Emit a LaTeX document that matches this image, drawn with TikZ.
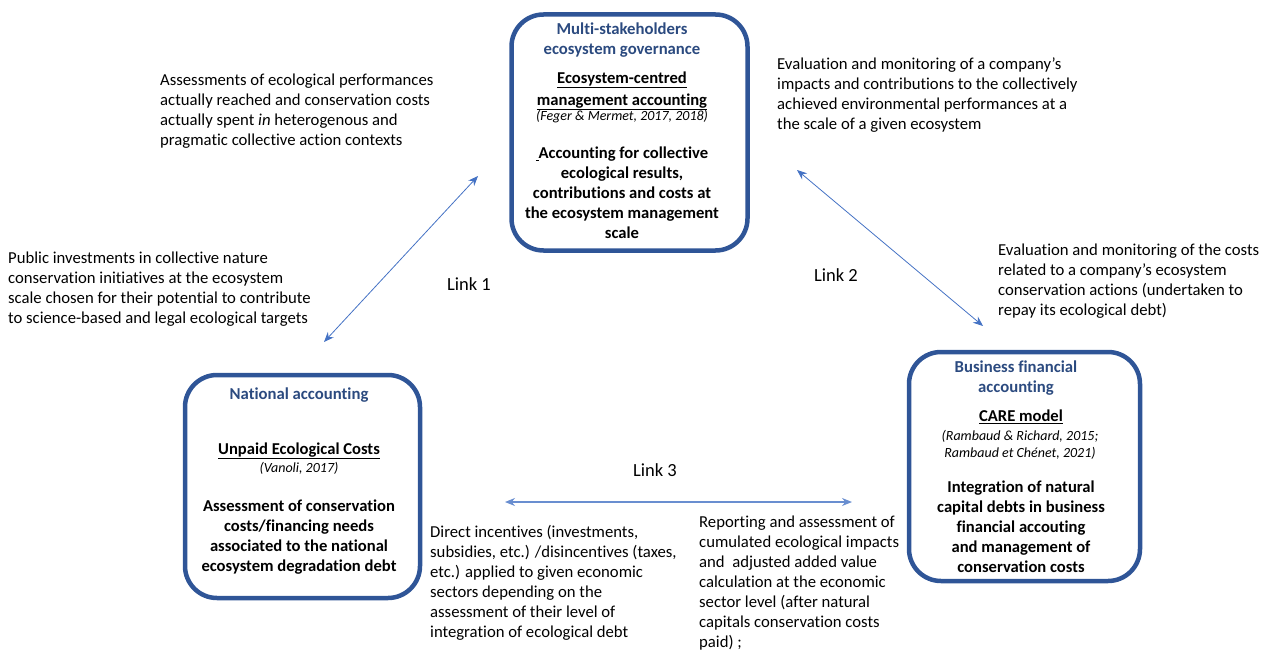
\documentclass[tikz,border=0pt]{standalone}
\usepackage{fontspec}
\setmainfont{Carlito}[Ligatures={NoCommon}]
\usetikzlibrary{arrows.meta}
\definecolor{boxblue}{HTML}{2F5597}
\definecolor{headblue}{HTML}{2B4A7F}
\definecolor{arrowblue}{HTML}{4472C4}
\begin{document}
\begin{tikzpicture}[x=1pt,y=-1pt,
  box/.style={draw=boxblue, line width=4.5pt, rounded corners=32pt, inner sep=0pt},
  txt/.style={font=\fontsize{16.7}{20}\selectfont, align=left, inner sep=0pt, anchor=west},
  head/.style={font=\fontsize{16.7}{20}\selectfont\bfseries, text=headblue, align=center, inner sep=0pt},
  title/.style={font=\fontsize{16.6}{21.5}\selectfont\bfseries, align=center, inner sep=0pt},
  cite/.style={font=\fontsize{14}{16.5}\selectfont\itshape, align=center, inner sep=0pt},
  body/.style={font=\fontsize{16.6}{20}\selectfont\bfseries, align=center, inner sep=0pt},
  link/.style={font=\fontsize{18.5}{20}\selectfont, inner sep=0pt},
  conn/.style={draw=arrowblue, line width=0.8pt, {Stealth[length=10pt,width=8pt]}-{Stealth[length=10pt,width=8pt]}}
]
\useasboundingbox (0,0) rectangle (1267,650);

% boxes
\node[box, minimum width=236pt, minimum height=236pt] (gov) at (629.5,132.5) {};
\node[box, minimum width=235pt, minimum height=223pt] (nat) at (302.5,486.5) {};
\node[box, minimum width=231pt, minimum height=229pt] (bus) at (1024.5,466.5) {};

% top box text
\node[head] (govh) at (622,40) {Multi-stakeholders\\ecosystem governance};
\node[title] (govt) at (622,91) {\underline{Ecosystem-centred}\\\underline{management accounting}};
\node[cite] (govc) at (622,117) {(Feger \& Mermet, 2017, 2018)};
\node[body] (govb) at (622,193) {\underline{\,}Accounting for collective\\ecological results,\\contributions and costs at\\the ecosystem management\\scale};

% left box text
\node[head] (nath) at (299,395) {National accounting};
\node[title] (natt) at (299,451) {\underline{Unpaid Ecological Costs}};
\node[cite] (natc) at (299,468) {(Vanoli, 2017)};
\node[body] (natb) at (299,537) {Assessment of conservation\\costs/financing needs\\associated to the national\\ecosystem degradation debt};

% right box text
\node[head] (bush) at (1016,378) {Business financial\\accounting};
\node[title] (bust) at (1021,417) {\underline{CARE model}};
\node[cite] (busc) at (1020,445) {(Rambaud \& Richard, 2015;\\Rambaud et Chénet, 2021)};
\node[body] (busb) at (1021,527) {Integration of natural\\capital debts in business\\financial accouting\\and management of\\conservation costs};

% free texts
\node[txt] (t1) at (160,111) {Assessments of ecological performances\\actually reached and conservation costs\\actually spent \textit{in} heterogenous and\\pragmatic collective action contexts};
\node[txt] (t2) at (777,95.5) {Evaluation and monitoring of a company’s\\impacts and contributions to the collectively\\achieved environmental performances at a\\the scale of a given ecosystem};
\node[txt] (t3) at (8,289) {Public investments in collective nature\\conservation initiatives at the ecosystem\\scale chosen for their potential to contribute\\to science-based and legal ecological targets};
\node[txt] (t4) at (998,281) {Evaluation and monitoring of the costs\\related to a company’s ecosystem\\conservation actions (undertaken to\\repay its ecological debt)};
\node[txt] (t5) at (430,582.5) {Direct incentives (investments,\\subsidies, etc.) /disincentives (taxes,\\etc.) applied to given economic\\sectors depending on the\\assessment of their level of\\integration of ecological debt};
\node[txt] (t6) at (699,583.5) {Reporting and assessment of\\cumulated ecological impacts\\and\ \ adjusted added value\\calculation at the economic\\sector level (after natural\\capitals conservation costs\\paid) ;};

% link labels
\node[link] (l1) at (469,284) {Link 1};
\node[link] (l2) at (836,275) {Link 2};
\node[link] (l3) at (655,470) {Link 3};

% connectors
\coordinate (a1) at (478,176);
\coordinate (b1) at (324,342);
\coordinate (a2) at (797,170);
\coordinate (b2) at (983,326);
\coordinate (a3) at (505,502);
\coordinate (b3) at (852,502);
\draw[conn] (a1) -- (b1);
\draw[conn] (a2) -- (b2);
\draw[conn, line width=1.2pt, draw=arrowblue!80] (a3) -- (b3);
\end{tikzpicture}
\end{document}
